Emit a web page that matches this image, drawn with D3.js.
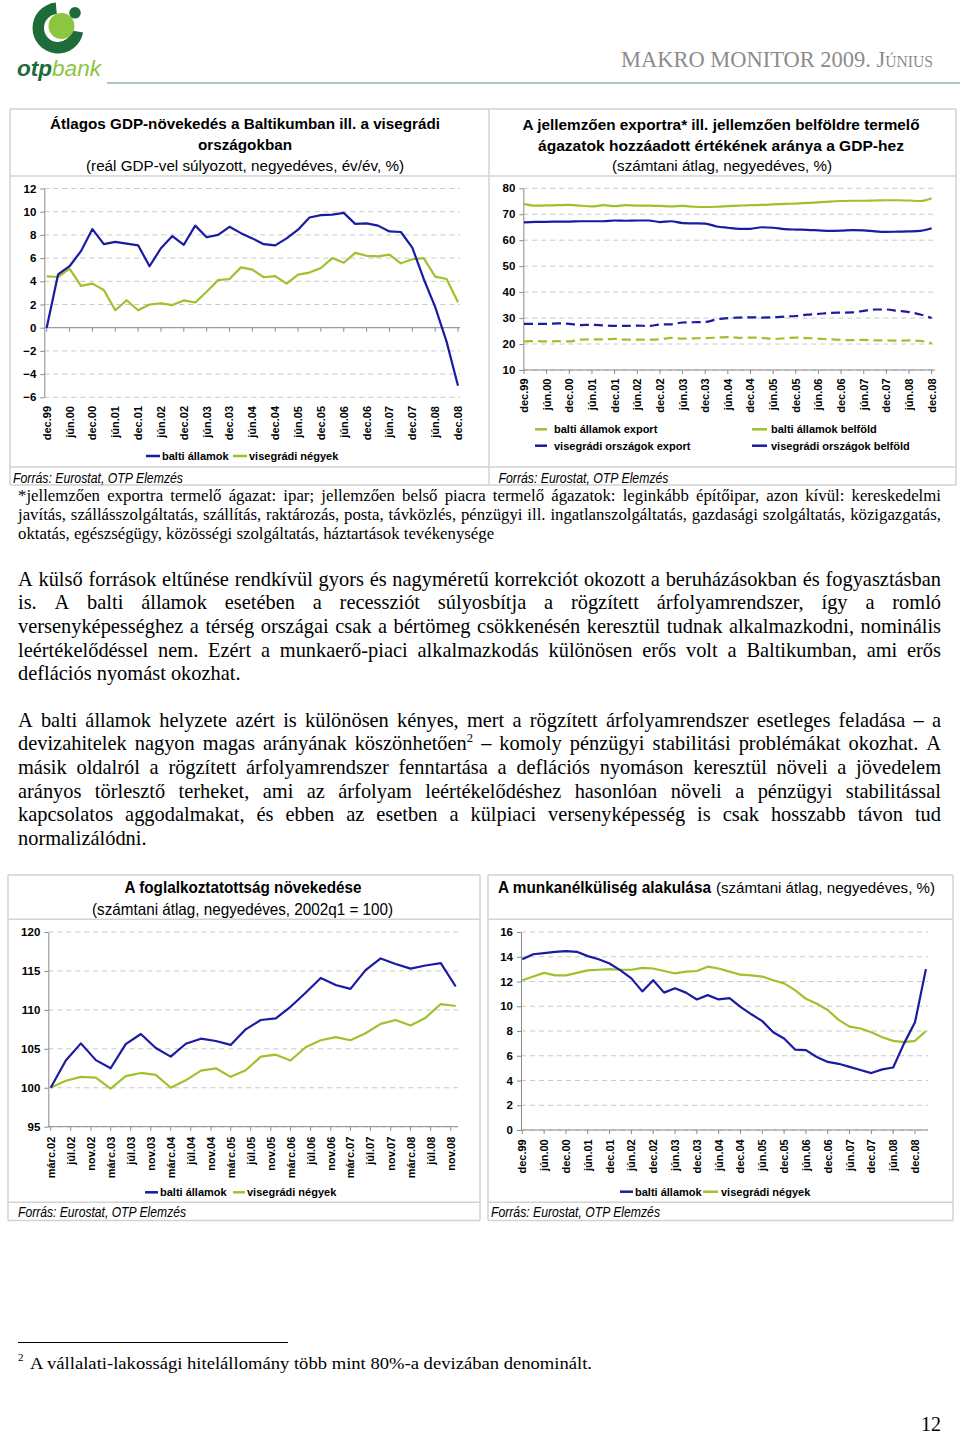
<!DOCTYPE html>
<html><head><meta charset="utf-8">
<script src="https://cdn.jsdelivr.net/npm/d3@7"></script>
<style>html,body{margin:0;padding:0;background:#fff;}svg{display:block;}</style>
</head><body>
<svg id="page" width="960" height="1437"></svg>
<script>
// ---------------- DATA ----------------
const quarters = ["dec.99","márc.00","jún.00","szept.00","dec.00","márc.01","jún.01","szept.01","dec.01","márc.02","jún.02","szept.02","dec.02","márc.03","jún.03","szept.03","dec.03","márc.04","jún.04","szept.04","dec.04","márc.05","jún.05","szept.05","dec.05","márc.06","jún.06","szept.06","dec.06","márc.07","jún.07","szept.07","dec.07","márc.08","jún.08","szept.08","dec.08"];
const quartersUnemp = quarters.concat(["márc.09"]);
const halfYearLabels = ["dec.99","jún.00","dec.00","jún.01","dec.01","jún.02","dec.02","jún.03","dec.03","jún.04","dec.04","jún.05","dec.05","jún.06","dec.06","jún.07","dec.07","jún.08","dec.08"];

// Chart 1: GDP growth (%)
const gdpBalti = [0,4.6,5.3,6.6,8.5,7.2,7.4,7.25,7.1,5.3,6.85,7.9,7.15,8.8,7.8,8.0,8.7,8.15,7.7,7.2,7.1,7.7,8.45,9.5,9.7,9.75,9.9,8.95,9.0,8.8,8.3,8.25,6.9,4.2,1.8,-1.2,-5.0];
const gdpV4 = [4.43,4.37,5.1,3.6,3.8,3.25,1.5,2.37,1.5,2.0,2.1,1.95,2.35,2.17,3.1,4.1,4.2,5.2,5.0,4.35,4.45,3.8,4.57,4.75,5.15,6.0,5.6,6.45,6.2,6.15,6.3,5.55,5.9,6.0,4.4,4.2,2.2];
const gdpYTicks = [-6,-4,-2,0,2,4,6,8,10,12];

// Chart 2: share of value added (%)
const exportBalti = [21.0,21.1,21.0,21.1,21.0,21.7,21.8,21.8,22.0,21.7,21.7,21.7,21.8,22.4,22.1,22.2,22.3,22.5,22.7,22.4,22.5,22.4,22.0,22.2,22.5,22.3,22.1,21.8,21.6,21.5,21.6,21.4,21.4,21.3,21.4,21.2,20.3];
const exportV4 = [27.8,27.8,27.8,28.0,27.8,27.3,27.4,27.2,27.0,27.0,27.1,27.0,27.5,27.6,28.3,28.4,28.5,29.5,30.0,30.2,30.3,30.2,30.3,30.6,30.8,31.3,31.6,32.0,32.1,32.2,32.8,33.3,33.3,32.8,32.3,31.4,30.0];
const domesticBalti = [74.0,73.3,73.4,73.5,73.6,73.3,73.0,73.5,73.1,73.5,73.3,73.3,73.2,73.0,73.2,72.9,72.8,72.9,73.1,73.3,73.5,73.6,73.8,74.0,74.1,74.4,74.6,74.9,75.1,75.2,75.2,75.3,75.4,75.4,75.3,75.1,76.2];
const domesticV4 = [66.9,67.1,67.1,67.2,67.2,67.3,67.3,67.3,67.6,67.5,67.6,67.6,67.0,67.3,66.6,66.5,66.4,65.3,64.8,64.4,64.4,65.0,64.8,64.3,64.1,64.0,63.8,63.6,63.7,63.9,63.8,63.4,63.2,63.3,63.4,63.6,64.6];
const shareYTicks = [10,20,30,40,50,60,70,80];

// Chart 3: employment (2002q1 = 100)
const empDates = ["2002-03","2002-06","2002-09","2002-12","2003-03","2003-06","2003-09","2003-12","2004-03","2004-06","2004-09","2004-12","2005-03","2005-06","2005-09","2005-12","2006-03","2006-06","2006-09","2006-12","2007-03","2007-06","2007-09","2007-12","2008-03","2008-06","2008-09","2008-12"];
const empBalti = [100.0,103.5,105.7,103.55,102.5,105.6,106.9,105.1,104.0,105.65,106.3,106.0,105.5,107.5,108.7,108.9,110.4,112.2,114.1,113.2,112.7,115.1,116.6,115.9,115.3,115.7,116.0,113.0];
const empV4 = [100.0,100.9,101.4,101.3,99.9,101.5,101.9,101.65,100.0,100.95,102.2,102.5,101.4,102.25,104.0,104.25,103.5,105.2,106.1,106.5,106.1,107.0,108.2,108.7,108.0,109.0,110.75,110.5];
const empTickDates = ["2002-03","2002-07","2002-11","2003-03","2003-07","2003-11","2004-03","2004-07","2004-11","2005-03","2005-07","2005-11","2006-03","2006-07","2006-11","2007-03","2007-07","2007-11","2008-03","2008-07","2008-11"];
const empTickLabels = ["márc.02","júl.02","nov.02","márc.03","júl.03","nov.03","márc.04","júl.04","nov.04","márc.05","júl.05","nov.05","márc.06","júl.06","nov.06","márc.07","júl.07","nov.07","márc.08","júl.08","nov.08"];
const empYTicks = [95,100,105,110,115,120];

// Chart 4: unemployment (%)
const unempBalti = [13.8,14.2,14.3,14.4,14.45,14.4,14.05,13.8,13.45,12.9,12.25,11.2,12.1,11.1,11.45,11.1,10.55,10.9,10.55,10.65,9.95,9.35,8.8,7.9,7.4,6.5,6.45,5.9,5.5,5.35,5.1,4.85,4.6,4.9,5.05,7.0,8.7,13.0];
const unempV4 = [12.1,12.4,12.7,12.5,12.5,12.7,12.9,12.95,13.0,12.95,12.95,13.1,13.05,12.85,12.65,12.8,12.85,13.2,13.05,12.8,12.55,12.5,12.4,12.1,11.85,11.3,10.6,10.2,9.7,8.9,8.35,8.2,7.9,7.5,7.2,7.1,7.2,8.0];
const unempYTicks = [0,2,4,6,8,10,12,14,16];

// Text
const chartNote = [
"*jellemzően exportra termelő ágazat: ipar; jellemzően belső piacra termelő ágazatok: leginkább építőipar, azon kívül: kereskedelmi",
"javítás, szállásszolgáltatás, szállítás, raktározás, posta, távközlés, pénzügyi ill. ingatlanszolgáltatás, gazdasági szolgáltatás, közigazgatás,",
"oktatás, egészségügy, közösségi szolgáltatás, háztartások tevékenysége"];
const para1 = [
"A külső források eltűnése rendkívül gyors és nagyméretű korrekciót okozott a beruházásokban és fogyasztásban",
"is. A balti államok esetében a recessziót súlyosbítja a rögzített árfolyamrendszer, így a romló",
"versenyképességhez a térség országai csak a bértömeg csökkenésén keresztül tudnak alkalmazkodni, nominális",
"leértékelődéssel nem. Ezért a munkaerő-piaci alkalmazkodás különösen erős volt a Baltikumban, ami erős",
"deflációs nyomást okozhat."];
const para2 = [
"A balti államok helyzete azért is különösen kényes, mert a rögzített árfolyamrendszer esetleges feladása – a",
"devizahitelek nagyon magas arányának köszönhetően^2 – komoly pénzügyi stabilitási problémákat okozhat. A",
"másik oldalról a rögzített árfolyamrendszer fenntartása a deflációs nyomáson keresztül növeli a jövedelem",
"arányos törlesztő terheket, ami az árfolyam leértékelődéshez hasonlóan növeli a pénzügyi stabilitással",
"kapcsolatos aggodalmakat, és ebben az esetben a külpiaci versenyképesség is csak hosszabb távon tud",
"normalizálódni."];

// ---------------- STYLE ----------------
const BLUE = "#1a1aa3", GREEN = "#9ec22c", GRID = "#c9c9c9", AXIS = "#8a8a8a", BORDER = "#d3d3d3";
const SANS = "'Liberation Sans', Arial, sans-serif";
const SERIF = "'Liberation Serif', 'Times New Roman', serif";
const DGREEN = "#1d6c3a", LGREEN = "#8cc540";

const svg = d3.select("#page");
svg.append("rect").attr("width", 960).attr("height", 1437).attr("fill", "#fff");

// ---------------- HEADER ----------------
const logo = svg.append("g");
logo.append("path")
  .attr("d", d3.arc().innerRadius(14).outerRadius(25.5).startAngle(100 * Math.PI / 180).endAngle(355 * Math.PI / 180)())
  .attr("transform", "translate(58,28)").attr("fill", DGREEN);
logo.append("circle").attr("cx", 61.5).attr("cy", 26).attr("r", 13).attr("fill", LGREEN);
logo.append("circle").attr("cx", 75).attr("cy", 12.8).attr("r", 5.8).attr("fill", DGREEN);
const lt = logo.append("text").attr("x", 17).attr("y", 76).attr("font-family", SANS)
  .attr("font-style", "italic").attr("font-size", 22).attr("textLength", 84).attr("lengthAdjust", "spacingAndGlyphs");
lt.append("tspan").attr("fill", DGREEN).attr("font-weight", "bold").text("otp");
lt.append("tspan").attr("fill", LGREEN).text("bank");
svg.append("line").attr("x1", 107).attr("x2", 960).attr("y1", 83).attr("y2", 83).attr("stroke", "#9db3aa").attr("stroke-width", 1.5);
svg.append("text").attr("x", 621).attr("y", 66.5).attr("font-family", SERIF).attr("fill", "#8c8c8c")
  .attr("font-size", 23).style("font-variant", "small-caps").attr("textLength", 312).attr("lengthAdjust", "spacingAndGlyphs")
  .text("MAKRO MONITOR 2009. Június");

// ---------------- HELPERS ----------------
function hline(x1, x2, y, c, w) { svg.append("line").attr("x1", x1).attr("x2", x2).attr("y1", y).attr("y2", y).attr("stroke", c).attr("stroke-width", w || 1); }
function vline(x, y1, y2, c, w) { svg.append("line").attr("x1", x).attr("x2", x).attr("y1", y1).attr("y2", y2).attr("stroke", c).attr("stroke-width", w || 1); }
function label(x, y, s, o) {
  o = o || {};
  const t = svg.append("text").attr("x", x).attr("y", y).attr("font-family", o.family || SANS)
    .attr("font-size", o.size || 12).attr("fill", o.fill || "#000")
    .attr("font-weight", o.bold ? "bold" : "normal").attr("font-style", o.italic ? "italic" : "normal")
    .attr("text-anchor", o.anchor || "start").text(s);
  if (o.len) t.attr("textLength", o.len).attr("lengthAdjust", "spacingAndGlyphs");
  return t;
}

function chart(o) {
  const g = svg.append("g");
  g.append("g").selectAll("line").data(o.yTicks).join("line")
    .attr("x1", o.axX).attr("x2", o.gridEnd).attr("y1", d => o.y(d)).attr("y2", d => o.y(d))
    .attr("stroke", GRID).attr("stroke-dasharray", "5,4");
  const ya = g.append("g").attr("transform", `translate(${o.axX},0)`)
    .call(d3.axisLeft(o.y).tickValues(o.yTicks).tickSize(4).tickSizeOuter(0).tickPadding(4));
  ya.select(".domain").attr("stroke", AXIS);
  ya.selectAll(".tick line").attr("stroke", AXIS);
  ya.selectAll("text").attr("font-family", SANS).attr("font-size", 11.5).attr("font-weight", "bold").attr("fill", "#000");
  g.append("line").attr("x1", o.axX).attr("x2", o.gridEnd).attr("y1", o.xAxisY).attr("y2", o.xAxisY).attr("stroke", AXIS);
  g.append("g").selectAll("line").data(o.xTicks).join("line")
    .attr("x1", d => o.xPos(d)).attr("x2", d => o.xPos(d)).attr("y1", o.xAxisY).attr("y2", o.xAxisY + 4).attr("stroke", AXIS);
  g.append("g").selectAll("text").data(o.xTicks).join("text")
    .attr("transform", d => `translate(${o.xPos(d)},${o.labelTop}) rotate(-90)`)
    .attr("text-anchor", "end").attr("dy", "0.36em")
    .attr("font-family", SANS).attr("font-size", 11).attr("font-weight", "bold").attr("fill", "#000")
    .text((d, i) => o.xLabel ? o.xLabel[i] : d);
  o.series.forEach(s => {
    const ln = d3.line().x((d, i) => o.xPos(o.cats[i])).y(d => o.y(d));
    if (o.curve) ln.curve(o.curve);
    g.append("path").datum(s.values).attr("d", ln).attr("fill", "none")
      .attr("stroke", s.color).attr("stroke-width", 2.2).attr("stroke-linejoin", "round")
      .attr("stroke-dasharray", s.dash || null);
  });
  (o.legend || []).forEach(l => {
    g.append("line").attr("x1", l.x1).attr("x2", l.x2).attr("y1", l.y).attr("y2", l.y)
      .attr("stroke", l.color).attr("stroke-width", 2.5);
    g.append("text").attr("x", l.tx).attr("y", l.y).attr("dy", "0.35em")
      .attr("font-family", SANS).attr("font-size", 11).attr("font-weight", "bold").attr("fill", "#000").text(l.text);
  });
}

// ---------------- BOXES ----------------
[109, 176, 467, 485].forEach(y => hline(10, 956, y, BORDER, 1.5));
[10, 489, 956].forEach(x => vline(x, 109, 485, BORDER, 1.5));
[[8, 480], [488, 953]].forEach(([a, b]) => {
  [875, 919.3, 1202.3, 1220.5].forEach(y => hline(a, b, y, BORDER, 1.5));
  vline(a, 875, 1220.5, BORDER, 1.5); vline(b, 875, 1220.5, BORDER, 1.5);
});

// ---------------- CHART 1 ----------------
label(245, 129, "Átlagos GDP-növekedés a Baltikumban ill. a visegrádi", { bold: true, size: 15.5, anchor: "middle", len: 390 });
label(245, 150, "országokban", { bold: true, size: 15.5, anchor: "middle", len: 94 });
label(245, 171, "(reál GDP-vel súlyozott, negyedéves, év/év, %)", { size: 15.5, anchor: "middle", len: 318 });
const x1 = d3.scalePoint().domain(quarters).range([46.7, 458]);
const y1 = d3.scaleLinear().domain([-6, 12]).range([397.3, 188.5]);
chart({
  cats: quarters, xPos: x1, y: y1, yTicks: gdpYTicks, axX: 44.3, gridEnd: 460, xAxisY: y1(0),
  xTicks: halfYearLabels, labelTop: 406,
  series: [{ values: gdpV4, color: GREEN }, { values: gdpBalti, color: BLUE }],
  legend: [
    { x1: 146, x2: 160, tx: 162, y: 456, color: BLUE, text: "balti államok" },
    { x1: 233, x2: 247, tx: 249, y: 456, color: GREEN, text: "visegrádi négyek" }]
});
label(13, 482.5, "Forrás: Eurostat, OTP Elemzés", { italic: true, size: 14, len: 170 });

// ---------------- CHART 2 ----------------
label(721, 130, "A jellemzően exportra* ill. jellemzően belföldre termelő", { bold: true, size: 15.5, anchor: "middle", len: 397 });
label(721, 150.5, "ágazatok hozzáadott értékének aránya a GDP-hez", { bold: true, size: 15.5, anchor: "middle", len: 366 });
label(722, 171, "(számtani átlag, negyedéves, %)", { size: 15.5, anchor: "middle", len: 220 });
const x2 = d3.scalePoint().domain(quarters).range([524, 931.7]);
const y2 = d3.scaleLinear().domain([10, 80]).range([370, 188.3]);
chart({
  cats: quarters, xPos: x2, y: y2, yTicks: shareYTicks, axX: 523.3, gridEnd: 935, xAxisY: y2(10),
  xTicks: halfYearLabels, labelTop: 378.5, curve: d3.curveMonotoneX,
  series: [
    { values: exportBalti, color: GREEN, dash: "9,5" },
    { values: exportV4, color: BLUE, dash: "9,5" },
    { values: domesticBalti, color: GREEN },
    { values: domesticV4, color: BLUE }],
  legend: [
    { x1: 535, x2: 547, tx: 554, y: 429.3, color: GREEN, text: "balti államok export" },
    { x1: 535, x2: 547, tx: 554, y: 445.7, color: BLUE, text: "visegrádi országok export" },
    { x1: 752, x2: 767, tx: 771, y: 429.3, color: GREEN, text: "balti államok belföld" },
    { x1: 752, x2: 767, tx: 771, y: 445.7, color: BLUE, text: "visegrádi országok belföld" }]
});
label(498.5, 482.5, "Forrás: Eurostat, OTP Elemzés", { italic: true, size: 14, len: 170 });

// ---------------- CHART 3 ----------------
label(243, 893, "A foglalkoztatottság növekedése", { bold: true, size: 16.5, anchor: "middle", len: 237 });
label(242.5, 914.5, "(számtani átlag, negyedéves, 2002q1 = 100)", { size: 16.5, anchor: "middle", len: 301 });
const parseM = d3.timeParse("%Y-%m");
const empDateObjs = empDates.map(parseM);
const x3 = d3.scaleTime().domain([parseM("2002-03"), parseM("2008-12")]).range([50.7, 455.7]);
const y3 = d3.scaleLinear().domain([95, 120]).range([1126.7, 932]);
chart({
  cats: empDateObjs, xPos: d => x3(d instanceof Date ? d : parseM(d)), y: y3, yTicks: empYTicks, axX: 48.3, gridEnd: 458, xAxisY: y3(95),
  xTicks: empTickDates, xLabel: empTickLabels, labelTop: 1136.7,
  series: [{ values: empV4, color: GREEN }, { values: empBalti, color: BLUE }],
  legend: [
    { x1: 145, x2: 158, tx: 160, y: 1192.3, color: BLUE, text: "balti államok" },
    { x1: 233, x2: 245, tx: 247, y: 1192.3, color: GREEN, text: "visegrádi négyek" }]
});
label(18, 1217, "Forrás: Eurostat, OTP Elemzés", { italic: true, size: 14, len: 168 });

// ---------------- CHART 4 ----------------
label(498, 893, "A munkanélküliség alakulása", { bold: true, size: 16, len: 213 });
label(716, 893, "(számtani átlag, negyedéves, %)", { size: 15, len: 219 });
const x4 = d3.scalePoint().domain(quartersUnemp).range([522.3, 925.9]);
const y4 = d3.scaleLinear().domain([0, 16]).range([1130, 932]);
chart({
  cats: quartersUnemp, xPos: x4, y: y4, yTicks: unempYTicks, axX: 521, gridEnd: 928, xAxisY: y4(0),
  xTicks: halfYearLabels, labelTop: 1139.3,
  series: [{ values: unempV4, color: GREEN }, { values: unempBalti, color: BLUE }],
  legend: [
    { x1: 620, x2: 633, tx: 635, y: 1191.7, color: BLUE, text: "balti államok" },
    { x1: 703, x2: 718, tx: 721, y: 1191.7, color: GREEN, text: "visegrádi négyek" }]
});
label(491, 1217, "Forrás: Eurostat, OTP Elemzés", { italic: true, size: 14, len: 169 });

// ---------------- BODY TEXT ----------------
function placeLine(str, x0, x1, y, size, justify) {
  const g = svg.append("g").attr("font-family", SERIF).attr("font-size", size).attr("fill", "#000");
  const words = str.split(" ");
  const items = words.map(w => {
    const t = g.append("text").attr("y", y);
    if (w.includes("^")) {
      const [a, b] = w.split("^");
      t.append("tspan").text(a);
      t.append("tspan").attr("dy", -size * 0.4).attr("font-size", size * 0.62).text(b);
    } else t.text(w);
    return t;
  });
  const ws = items.map(t => t.node().getComputedTextLength());
  const total = d3.sum(ws);
  const gap = (justify && words.length > 1) ? Math.max(1, (x1 - x0 - total) / (words.length - 1)) : size * 0.25;
  let x = x0;
  items.forEach((t, i) => { t.attr("x", x); x += ws[i] + gap; });
}
chartNote.forEach((l, i) => placeLine(l, 18, 941, 500.5 + i * 19.3, 16.8, i < chartNote.length - 1));
para1.forEach((l, i) => placeLine(l, 18, 941, 585.5 + i * 23.7, 20.4, i < para1.length - 1));
para2.forEach((l, i) => placeLine(l, 18, 941, 726.5 + i * 23.7, 20.4, i < para2.length - 1));

// footnote
hline(18, 288, 1342.5, "#000", 1);
label(18, 1361, "2", { family: SERIF, size: 11 });
label(30, 1369, "A vállalati-lakossági hitelállomány több mint 80%-a devizában denominált.", { family: SERIF, size: 17.5, len: 562 });
label(941, 1431, "12", { family: SERIF, size: 20, anchor: "end" });
</script>
</body></html>
